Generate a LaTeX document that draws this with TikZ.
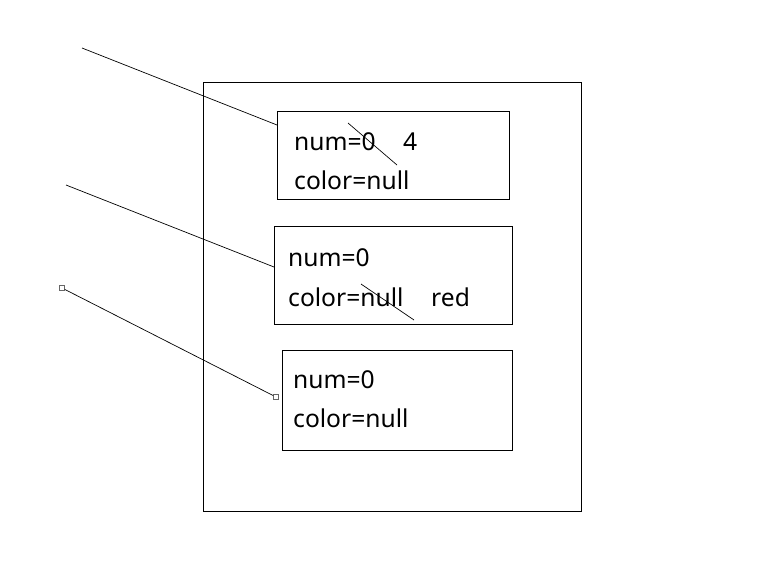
\documentclass[tikz,border=0pt]{standalone}
\usepackage{fontspec}
\setmainfont{Noto Sans}
\begin{document}
\begin{tikzpicture}[x=1pt,y=-1pt,
  box/.style={draw,line width=0.9pt,inner sep=0pt,anchor=north west},
  txt/.style={anchor=base west,inner sep=0pt,font=\fontsize{24.6}{28}\selectfont},
  ln/.style={line width=0.7pt},
  handle/.style={draw=gray!80!black,fill=white,line width=0.6pt,minimum size=5pt,inner sep=0pt}]
\useasboundingbox (0,0) rectangle (778,581);
\node[box,minimum width=378pt,minimum height=429pt] (outer) at (203,82) {};
\node[box,minimum width=232pt,minimum height=88pt] (b1) at (277,111) {};
\node[box,minimum width=238pt,minimum height=98pt] (b2) at (274,226) {};
\node[box,minimum width=230pt,minimum height=100pt] (b3) at (282,350) {};
% texts
\node[txt] (t1a) at (294,150) {num=0};
\node[txt] (t1b) at (403,150) {4};
\node[txt] (t1c) at (294,189) {color=null};
\node[txt] (t2a) at (288,266) {num=0};
\node[txt] (t2b) at (288,306) {color=null};
\node[txt] (t2c) at (431,306) {red};
\node[txt] (t3a) at (293,388) {num=0};
\node[txt] (t3b) at (293,427) {color=null};
% strike lines
\coordinate (s1a) at (348,123); \coordinate (s1b) at (397,165);
\draw[ln] (s1a) -- (s1b);
\coordinate (s2a) at (361,284); \coordinate (s2b) at (414,320);
\draw[ln] (s2a) -- (s2b);
% pointer lines
\coordinate (p1) at (82,48); \coordinate (e1) at (277,125);
\draw[ln] (p1) -- (e1);
\coordinate (p2) at (66,185); \coordinate (e2) at (274,267);
\draw[ln] (p2) -- (e2);
\node[handle] (h1) at (62,288) {};
\node[handle] (h2) at (276,397) {};
\draw[ln] (h1) -- (h2);
\end{tikzpicture}
\end{document}
